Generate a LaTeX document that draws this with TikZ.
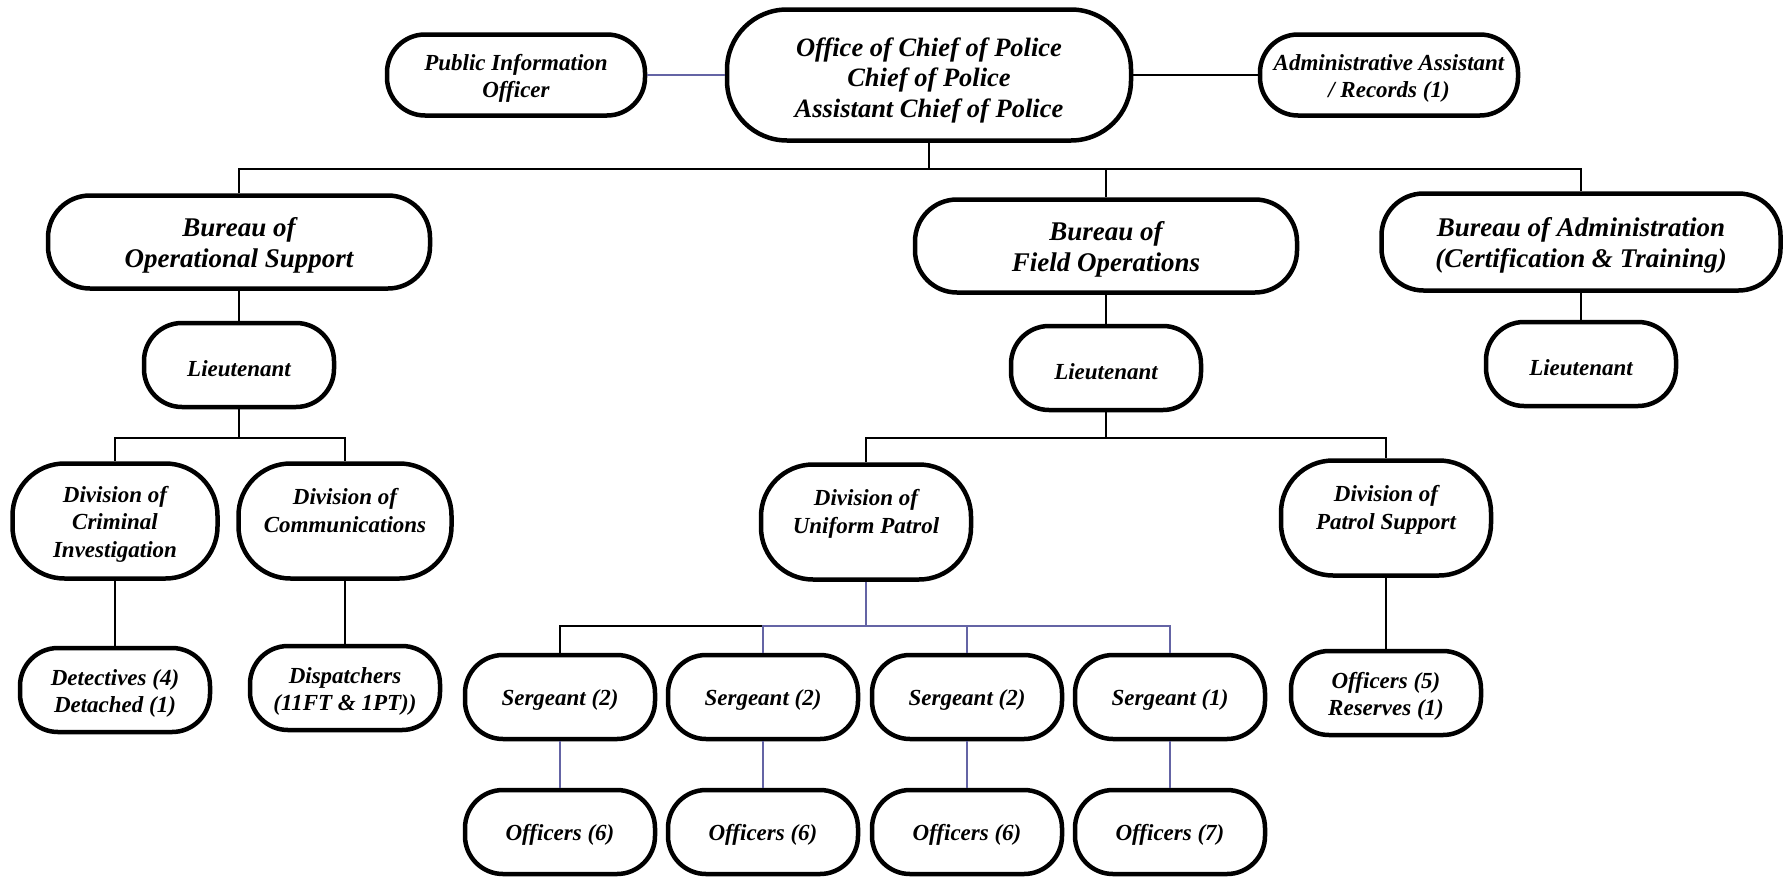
\documentclass[tikz,border=0pt]{standalone}
\usepackage{fontspec}
\setmainfont{Liberation Serif}
\usepackage{tikz}
\usetikzlibrary{positioning}
\definecolor{linkblue}{RGB}{100,100,165}

\begin{document}
\begin{tikzpicture}[
  x=1pt, y=-1pt,
  on grid,
  text drop/.style={execute at begin node={\rule{0pt}{#1}}},
  unit/.style={draw,line width=4.5pt,rounded corners=38pt,align=center,inner sep=0pt,
    minimum width=190pt,minimum height=84pt,text drop=22.5pt,
    font=\fontsize{23}{27.5}\selectfont\bfseries\itshape},
  two lines/.style={text drop=50pt},
  sidebox/.style={unit,two lines,minimum width=258pt,minimum height=81pt},
  division/.style={unit,minimum width=210pt,minimum height=115pt,rounded corners=52pt,text drop=77.5pt},
  bureau/.style={unit,minimum width=382pt,minimum height=93pt,rounded corners=42pt,text drop=56.5pt,
    font=\fontsize{27}{31}\selectfont\bfseries\itshape},
  chiefbox/.style={bureau,minimum width=404pt,minimum height=131pt,rounded corners=60pt,text drop=90.5pt,
    font=\fontsize{26.5}{30.5}\selectfont\bfseries\itshape},
  link/.style={line width=1.6pt},
  bluelink/.style={link,draw=linkblue}]
  \useasboundingbox (0,0) rectangle (1785,878);
  % top: chief with staff on each side
  \node [chiefbox] (chief) at (929,75) {Office of Chief of Police\\Chief of Police\\Assistant Chief of Police};
  \node [sidebox] (pio) [left=413pt of chief] {Public Information\\Officer};
  \node [sidebox] (aa)  [right=460pt of chief] {Administrative Assistant\\/ Records (1)};
  % bureaus
  \node [bureau] (bops) [below left=167pt and 690pt of chief] {Bureau of\\Operational Support};
  \node [bureau] (bfo)  [below right=171pt and 177pt of chief] {Bureau of\\Field Operations};
  \node [bureau,minimum width=399pt,minimum height=97pt] (badm) [below right=167pt and 652pt of chief]
    {Bureau of Administration\\(Certification \& Training)};
  \node [unit] (lt1) [below=123pt of bops] {Lieutenant};
  \node [unit] (lt2) [below=122pt of bfo] {Lieutenant};
  \node [unit] (lt3) [below=122pt of badm] {Lieutenant};
  % divisions
  \node [division,minimum width=205pt] (divcrim) [below left=156pt and 124pt of lt1]
    {Division of\\Criminal\\Investigation};
  \node [division,minimum width=213pt] (divcomm) [below right=156pt and 106pt of lt1]
    {Division of\\Communications\\\phantom{X}};
  \node [division] (divuni) [below left=154pt and 240pt of lt2] {Division of\\Uniform Patrol\\\phantom{X}};
  \node [division] (divps)  [below right=150pt and 280pt of lt2] {Division of\\Patrol Support\\\phantom{X}};
  \node [unit,two lines] (det)    [below=169pt of divcrim] {Detectives (4)\\Detached (1)};
  \node [unit,two lines] (disp)   [below=167pt of divcomm] {Dispatchers\\(11FT \& 1PT))};
  \node [unit,two lines] (offres) [below=175pt of divps] {Officers (5)\\Reserves (1)};
  % patrol squads
  \node [unit] (sgt1) [below left=175pt and 306pt of divuni] {Sergeant (2)};
  \node [unit] (sgt2) [right=203pt of sgt1] {Sergeant (2)};
  \node [unit] (sgt3) [right=204pt of sgt2] {Sergeant (2)};
  \node [unit] (sgt4) [right=203pt of sgt3] {Sergeant (1)};
  \node [unit] (off1) [below=135pt of sgt1] {Officers (6)};
  \node [unit] (off2) [below=135pt of sgt2] {Officers (6)};
  \node [unit] (off3) [below=135pt of sgt3] {Officers (6)};
  \node [unit] (off4) [below=135pt of sgt4] {Officers (7)};

  \draw [bluelink] (pio) -- (chief);
  \draw [link] (chief) -- (aa);
  \draw [link] (chief.south) -- ++(0,26) coordinate (topbus);
  \draw [link] (topbus) -| (bops.north);
  \draw [link] (topbus) -| (bfo.north);
  \draw [link] (topbus) -| (badm.north);
  \draw [link] (bops.south) -- (lt1.north);
  \draw [link] (bfo.south) -- (lt2.north);
  \draw [link] (badm.south) -- (lt3.north);
  \draw [link] (lt1.south) -- ++(0,29) coordinate (ltbus1);
  \draw [link] (ltbus1) -| (divcrim.north);
  \draw [link] (ltbus1) -| (divcomm.north);
  \draw [link] (divcrim.south) -- (det.north);
  \draw [link] (divcomm.south) -- (disp.north);
  \draw [link] (lt2.south) -- ++(0,26) coordinate (ltbus2);
  \draw [link] (ltbus2) -| (divuni.north);
  \draw [link] (ltbus2) -| (divps.north);
  \draw [link] (divps.south) -- (offres.north);
  \draw [bluelink] (divuni.south) -- ++(0,44) coordinate (sgtbus);
  \draw [link] (sgtbus) -| (sgt1.north);
  \foreach \s in {2,3,4}
    \draw [bluelink] (sgtbus) -| (sgt\s.north);
  \foreach \s in {1,2,3,4}
    \draw [bluelink] (sgt\s.south) -- (off\s.north);
\end{tikzpicture}
\end{document}
